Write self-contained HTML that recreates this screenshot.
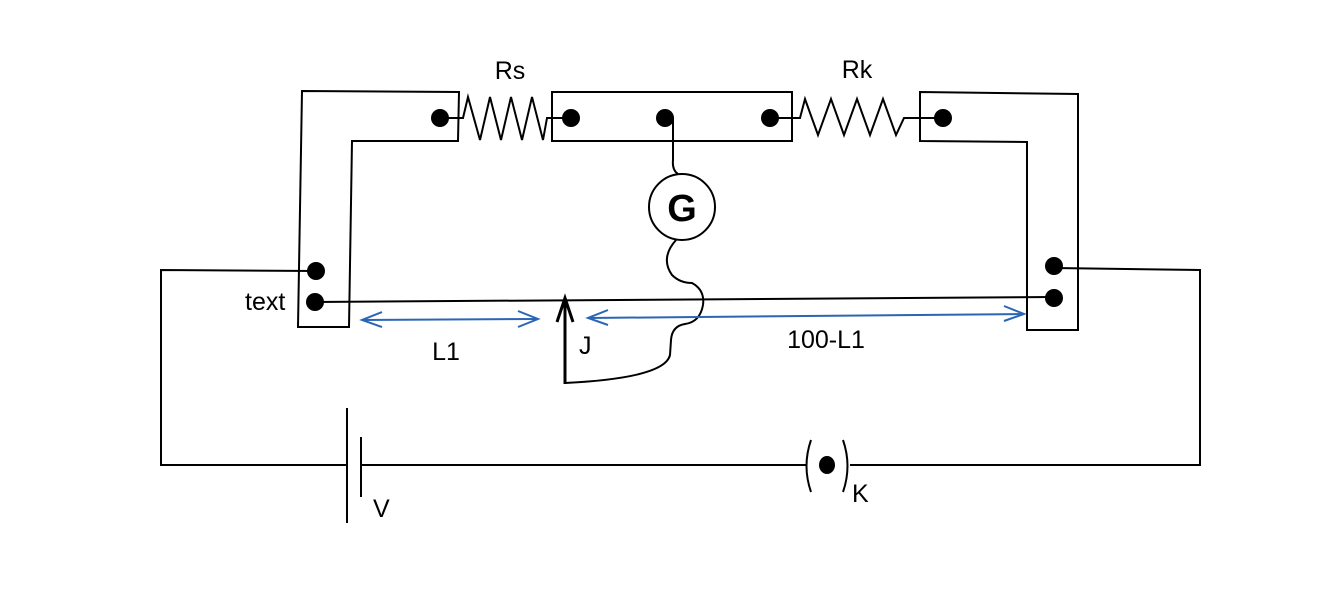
<!DOCTYPE html>
<html><head><meta charset="utf-8"><style>
html,body{margin:0;padding:0;background:#fff;width:1324px;height:604px;overflow:hidden}
svg{display:block}
text{font-family:"Liberation Sans",sans-serif;fill:#000}
</style></head><body>
<svg width="1324" height="604" viewBox="0 0 1324 604">
<g fill="none" stroke="#000" stroke-width="2">
<path d="M302 91 L459 92 L458 141 L352 141 L349 327 L298 327 Z"/>
<rect x="552" y="92" width="240" height="49"/>
<path d="M920 92 L1078 94 L1078 330 L1027 330 L1027 142 L920 141 Z"/>
<polyline points="440,118 463,118 468,97 480,140 490,97 501,140 511,97 522,140 532,97 543,140 547,118 571,118"/>
<polyline points="770,118 800,118 805,99 818,135 831,99 844,135 857,99 870,135 883,99 896,135 904,118 943,118"/>
<polyline points="316,271 161,270 161,465 347,465"/>
<line x1="361" y1="465" x2="806" y2="465"/>
<polyline points="850,465 1200,465 1200,270 1054,268"/>
<line x1="315" y1="302" x2="1054" y2="297"/>
<line x1="347" y1="408" x2="347" y2="523"/>
<line x1="361" y1="437" x2="361" y2="497"/>
<path d="M811 440 Q802 466 811 492"/>
<path d="M843 440 Q852 466 843 492"/>
<circle cx="682" cy="207" r="33"/>
<path d="M665 118 L673 118 L673 160 Q672 170 678 174"/>
<path d="M676 240 Q660 258 672 275 Q680 283 692 283 Q705 290 703 305 Q700 322 685 324 Q672 326 671 340 L670 355 Q665 378 565 383"/>
</g>
<line x1="565" y1="384" x2="565" y2="302" stroke="#000" stroke-width="3"/>
<path d="M557 322 L565 298 L573 322" fill="none" stroke="#000" stroke-width="3"/>
<g fill="#000">
<circle cx="440" cy="118" r="9"/><circle cx="571" cy="118" r="9"/><circle cx="665" cy="118" r="9"/>
<circle cx="770" cy="118" r="9"/><circle cx="943" cy="118" r="9"/>
<circle cx="316" cy="271" r="9"/><circle cx="315" cy="302" r="9"/>
<circle cx="1054" cy="266" r="9"/><circle cx="1054" cy="298" r="9"/>
<ellipse cx="827" cy="465" rx="8" ry="9"/>
</g>
<g fill="none" stroke="#2b65b5" stroke-width="2">
<line x1="362" y1="320" x2="538" y2="319"/>
<path d="M382 312 L362 320 L382 327"/><path d="M518 311 L538 319 L518 327"/>
<line x1="588" y1="318" x2="1024" y2="314"/>
<path d="M608 310 L588 318 L608 325"/><path d="M1004 306 L1024 314 L1004 321"/>
</g>
<text x="510" y="79" font-size="25" text-anchor="middle">Rs</text>
<text x="857" y="78" font-size="25" text-anchor="middle">Rk</text>
<text x="245" y="310" font-size="25">text</text>
<text x="446" y="360" font-size="25" text-anchor="middle">L1</text>
<text x="579" y="354" font-size="25">J</text>
<text x="826" y="348" font-size="25" text-anchor="middle">100-L1</text>
<text x="373" y="517" font-size="25">V</text>
<text x="852" y="502" font-size="25">K</text>
<text x="682" y="221" font-size="38" font-weight="bold" text-anchor="middle">G</text>
</svg>
</body></html>
